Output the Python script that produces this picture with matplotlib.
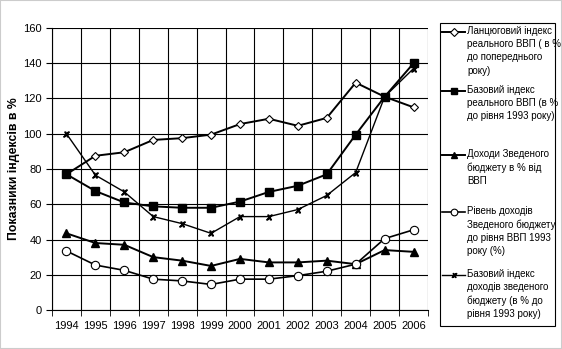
import numpy as np
import matplotlib
matplotlib.use("Agg")
import matplotlib.pyplot as plt
from matplotlib.lines import Line2D
from matplotlib.ticker import FixedLocator

plt.rcParams["font.family"] = ["Liberation Sans", "DejaVu Sans"]

years = ["1994", "1995", "1996", "1997", "1998", "1999", "2000",
         "2001", "2002", "2003", "2004", "2005", "2006"]
chain_gdp = [77, 87.5, 89.5, 96.5, 97.5, 99.5, 105.5, 108.5, 104.5, 109, 129, 121, 115]
base_gdp = [77, 67.5, 61, 58.8, 58, 58, 61.5, 67, 70.5, 77, 99.5, 121, 140]
budget_share = [43.5, 38, 37, 30, 28, 25, 29, 27, 27, 28, 26, 34, 33]
budget_level = [33.5, 25.5, 22.5, 17.5, 16.5, 14.5, 17.5, 17.5, 19.5, 22, 26, 40.5, 45.5]
base_budget = [100, 76.5, 67, 53, 49, 43.5, 53, 53, 57, 65, 78, 121, 137]

labels = [
    "Ланцюговий індекс\nреального ВВП ( в %\nдо попереднього\nроку)",
    "Базовий індекс\nреального ВВП (в %\nдо рівня 1993 року)",
    "Доходи Зведеного\nбюджету в % від\nВВП",
    "Рівень доходів\nЗведеного бюджету\nдо рівня ВВП 1993\nроку (%)",
    "Базовий індекс\nдоходів зведеного\nбюджету (в % до\nрівня 1993 року)",
]

series = [chain_gdp, base_gdp, budget_share, budget_level, base_budget]
styles = [
    dict(lw=1.4, marker="D", ms=4.5, mfc="white", mew=0.8),
    dict(lw=1.4, marker="s", ms=6, mfc="black"),
    dict(lw=1.4, marker="^", ms=6, mfc="black"),
    dict(lw=1.2, marker="o", ms=6, mfc="white", mew=0.8),
    dict(lw=1.0, marker="$x$", ms=4, mfc="black"),
]

fig = plt.figure(figsize=(5.62, 3.49), dpi=100)
ax = fig.add_axes([52 / 562, 1 - 310 / 349, 376 / 562, 282 / 349])

x = np.arange(len(years))
for vals, st in zip(series, styles):
    ax.plot(x, vals, color="black", mec="black", **st)

ax.set_xlim(-0.5, len(years) - 0.5)
ax.set_ylim(0, 160)
ax.set_yticks(np.arange(0, 161, 20))
ax.set_xticks(x)
ax.set_xticklabels(years)
ax.xaxis.set_minor_locator(FixedLocator(np.arange(-0.5, len(years), 1.0)))
ax.tick_params(axis="x", which="major", length=0, pad=8, labelsize=8)
ax.tick_params(axis="x", which="minor", length=4, direction="out")
ax.tick_params(axis="y", length=4, direction="out", labelsize=8)
ax.grid(True, axis="y", color="black", lw=0.8)
ax.grid(True, axis="x", which="minor", color="black", lw=0.8)
ax.set_axisbelow(True)
for side in ["top", "right"]:
    ax.spines[side].set_visible(False)
ax.set_ylabel("Показники індексів в %", fontsize=8.8, fontweight="bold", labelpad=2)

# legend drawn by hand so the handle sits on the first text line
W, H = 562, 349
fig.patches.append(plt.Rectangle((440 / W, 1 - 326 / H), 115 / W, 303 / H,
                                 transform=fig.transFigure, fill=False,
                                 edgecolor="black", lw=0.8))
first_line_y = [32, 91, 155, 212, 275]
for lab, st, yy in zip(labels, styles, first_line_y):
    yf = 1 - yy / H
    fig.add_artist(Line2D([442 / W, 465 / W], [yf, yf], color="black",
                          lw=st["lw"], transform=fig.transFigure))
    fig.add_artist(Line2D([453.5 / W], [yf], color="black", mec="black",
                          marker=st["marker"], ms=st["ms"] * 0.8,
                          mfc=st["mfc"], mew=st.get("mew", 1.0), lw=0,
                          transform=fig.transFigure))
    fig.text(467 / W, 1 - (yy - 6) / H, lab, fontsize=7.0, va="top",
             ha="left", linespacing=1.4)

fig.patches.append(plt.Rectangle((0, 0), 1, 1, transform=fig.transFigure,
                                 fill=False, edgecolor="#cccccc", lw=1.5))
fig.savefig("out.png", dpi=100)
